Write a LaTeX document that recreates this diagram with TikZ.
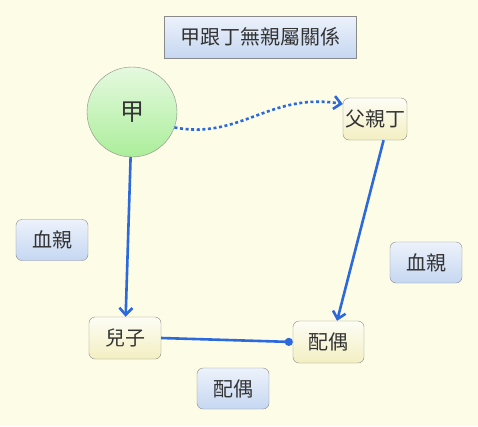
\documentclass[tikz,border=0pt]{standalone}
\usepackage{fontspec}
\setmainfont{Noto Sans CJK TC}
\usetikzlibrary{arrows.meta}
\definecolor{bgcream}{HTML}{FDFCE6}
\definecolor{linkblue}{HTML}{2B69DD}
\definecolor{edgegray}{HTML}{8A8A8A}
\definecolor{txtgray}{HTML}{333333}
\definecolor{yeltop}{HTML}{FDFDF5}
\definecolor{yelbot}{HTML}{F3EFC2}
\definecolor{bluetop}{HTML}{EDF2FB}
\definecolor{bluebot}{HTML}{C5D7F1}
\definecolor{greentop}{HTML}{E5F9DF}
\definecolor{greenbot}{HTML}{ABEE9A}

\begin{document}
\begin{tikzpicture}[x=1pt, y=-1pt,
  every node/.style={draw=edgegray, text=txtgray, font=\fontsize{20}{20}\selectfont, inner sep=0pt},
  yellowbox/.style={rounded corners=6pt, minimum width=70pt, minimum height=42pt, top color=yeltop, bottom color=yelbot},
  bluebox/.style={rounded corners=6pt, minimum width=72pt, minimum height=41pt, top color=bluetop, bottom color=bluebot},
  link/.style={linkblue, line width=2.6pt, -{Straight Barb[length=7pt, width=13pt]}}]
  % background and page size
  \fill[bgcream] (0,0) rectangle (478,426);
  \useasboundingbox (0,0) rectangle (478,426);

  % title
  \node[bluebox, rounded corners=0pt, minimum width=192pt, minimum height=42pt] (title) at (260,37) {甲跟丁無親屬關係};

  % people
  \node[circle, minimum size=90pt, top color=greentop, bottom color=greenbot, font=\fontsize{24}{24}\selectfont] (jia) at (132,112) {甲};
  \node[yellowbox, minimum width=64pt] (father) at (375,119) {父親丁};
  \node[yellowbox, minimum width=72pt] (son) at (125,338) {兒子};
  \node[yellowbox, minimum width=71pt] (spouse) at (328.5,342) {配偶};

  % relation labels
  \node[bluebox] (bloodL) at (52,240) {血親};
  \node[bluebox] (bloodR) at (426,262.5) {血親};
  \node[bluebox] (spouseL) at (233,388.5) {配偶};

  % connectors
  \draw[link, dash pattern=on 3pt off 2.6pt] (jia.-20) .. controls (240,140) and (270,92) .. (father.155);
  \draw[link] (jia) -- (son);
  \draw[link] (father.-68) -- (spouse.68);
  \draw[link, -{Circle[length=8pt]}] (son.east) -- (spouse.west);
\end{tikzpicture}
\end{document}
